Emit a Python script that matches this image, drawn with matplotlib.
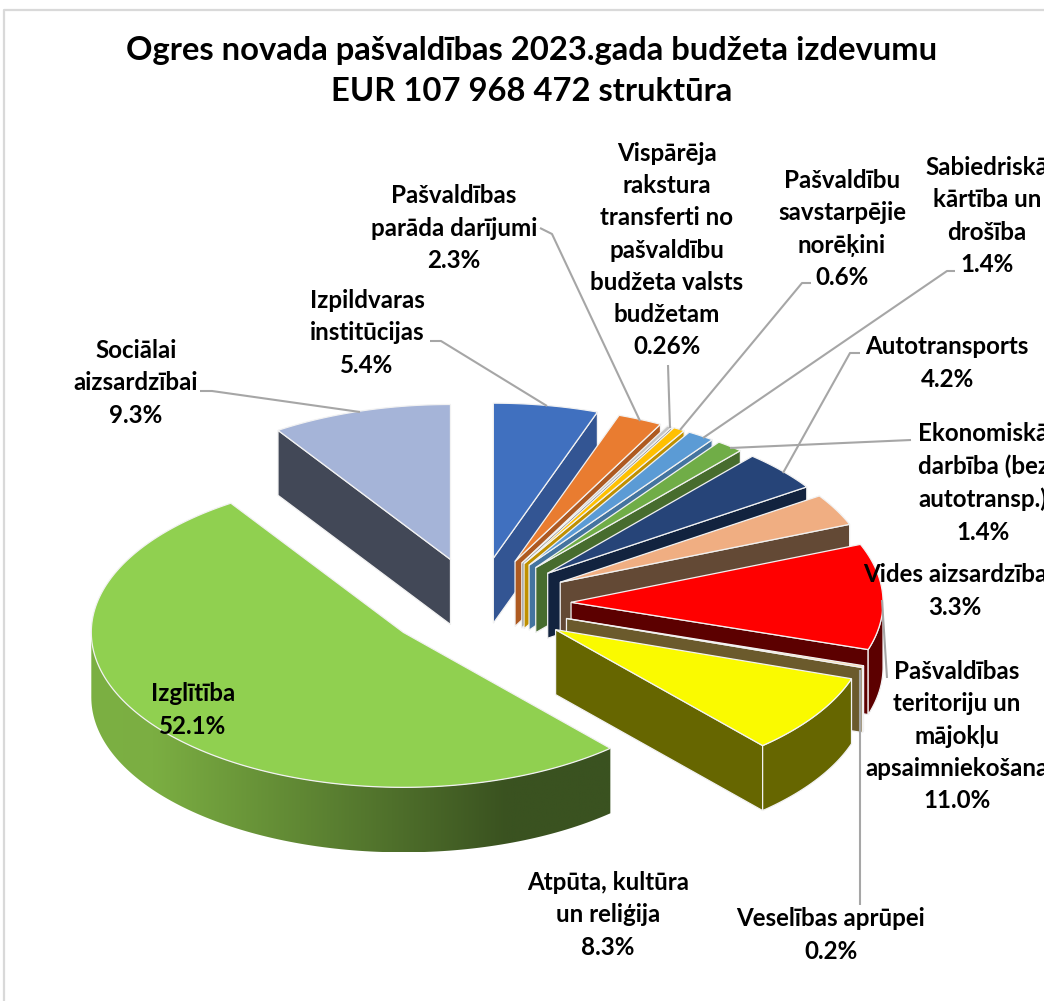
import numpy as np
import matplotlib
matplotlib.use("Agg")
import matplotlib.pyplot as plt
from matplotlib.patches import Polygon
from matplotlib.colors import LinearSegmentedColormap

plt.rcParams['font.family'] = ['Lato', 'DejaVu Sans']

# data, clockwise from 12 o'clock
labels = ["Izpildvaras\ninstitūcijas", "Pašvaldības\nparāda darījumi",
          "Vispārēja\nrakstura\ntransferti no\npašvaldību\nbudžeta valsts\nbudžetam",
          "Pašvaldību\nsavstarpējie\nnorēķini", "Sabiedriskā\nkārtība un\ndrošība",
          "Ekonomiskā\ndarbība (bez\nautotransp.)", "Autotransports", "Vides aizsardzība",
          "Pašvaldības\nteritoriju un\nmājokļu\napsaimniekošana", "Veselības aprūpei",
          "Atpūta, kultūra\nun reliģija", "Izglītība", "Sociālai\naizsardzībai"]
values = [5.4, 2.3, 0.26, 0.6, 1.4, 1.4, 4.2, 3.3, 11.0, 0.2, 8.3, 52.1, 9.3]
value_text = ["5.4%", "2.3%", "0.26%", "0.6%", "1.4%", "1.4%", "4.2%", "3.3%", "11.0%", "0.2%", "8.3%", "52.1%", "9.3%"]

top_colors = ["#4070BF", "#E97C30", "#C4C4C4", "#FFC000", "#5B9BD5", "#70AD47", "#264478",
              "#F0AE82", "#FF0000", "#FFD9A0", "#FAFA00", "#90D050", "#A5B4D8"]
side_colors = ["#335593", "#AE5A21", "#7C7C7C", "#BF9000", "#44749F", "#476C2E", "#12233F",
               "#634935", "#5C0000", "#6B5A2C", "#666600", "#7CB042", "#424857"]

# label block centres in pixels
label_x = [367, 454, 667, 842, 987, 983, 947, 955, 957, 831, 608, 193, 136]
label_y = [333, 228, 250, 229, 216, 483, 363, 591, 736, 935, 915, 710, 383]

# leader lines
leaders = [[(430, 341), (441, 341), (547, 406)],
           [(540, 228), (552, 234), (640, 421)],
           [(668, 365), (670, 428)],
           [(811, 283), (802, 283), (680, 430)],
           [(955, 271), (947, 271), (703, 438)],
           [(860, 353), (850, 353), (783, 473)],
           [(911, 440), (730, 448)],
           [(887, 678), (882, 600)],
           [(860, 670), (860, 905)],
           [(200, 391), (212, 391), (360, 412)]]

# pie geometry
cx, cy = 477.5, 604
rx, ry = 312, 155
explode = 0.3
depth = 65

fig = plt.figure(figsize=(10.44, 10.01), dpi=100)
ax = fig.add_axes([0, 0, 1, 1])


def pt(x0, y0, deg):
    a = np.radians(deg)
    return np.column_stack([x0 + rx * np.sin(a), y0 - ry * np.cos(a)])


def drop(points):
    return points + np.array([0, depth])


ends = np.cumsum(values) / np.sum(values) * 360
starts = np.concatenate([[0], ends[:-1]])

# sociali is the back left slice, draw it first
order = [12] + list(range(12))
for i in order:
    a0, a1 = starts[i], ends[i]
    mid = (a0 + a1) / 2
    ax0 = cx + explode * rx * np.sin(np.radians(mid))
    ay0 = cy - explode * ry * np.cos(np.radians(mid))
    apex = np.array([[ax0, ay0]])
    zo = 2 + order.index(i)

    # radial faces
    if a1 < 180:
        p = np.vstack([apex, pt(ax0, ay0, [a1])])
        ax.add_patch(Polygon(np.vstack([p, drop(p)[::-1]]), fc=side_colors[i], ec="#F2F2F2", lw=0.9, zorder=zo))
    if a0 > 180:
        p = np.vstack([apex, pt(ax0, ay0, [a0])])
        ax.add_patch(Polygon(np.vstack([p, drop(p)[::-1]]), fc=side_colors[i], ec="#F2F2F2", lw=0.9, zorder=zo))

    # outer wall
    w0, w1 = max(a0, 90), min(a1, 270)
    if w1 > w0:
        arc = pt(ax0, ay0, np.linspace(w0, w1, 120))
        outline = np.vstack([arc, drop(arc)[::-1]])
        wall = Polygon(outline, fc=side_colors[i], ec="#F2F2F2", lw=0.9, zorder=zo)
        ax.add_patch(wall)
        if i == 11:
            # Izglitiba wall has a left to right shading
            wall.set_facecolor("none")
            wall.set_edgecolor("none")
            cmap = LinearSegmentedColormap.from_list("wall", [(0, "#7CB042"), (0.12, "#7BAE42"), (0.8, "#3A5220"), (1, "#3A5220")])
            im = ax.imshow(np.linspace(0, 1, 256)[None, :], cmap=cmap, aspect="auto", zorder=zo,
                           extent=[outline[:, 0].min(), outline[:, 0].max(), outline[:, 1].max(), outline[:, 1].min()])
            im.set_clip_path(wall)

    # top face
    arc = pt(ax0, ay0, np.linspace(a0, a1, 240))
    ax.add_patch(Polygon(np.vstack([apex, arc]), fc=top_colors[i], ec="#F2F2F2", lw=0.9, zorder=zo + 0.5))

# leader lines
for line in leaders:
    xs, ys = zip(*line)
    ax.plot(xs, ys, color="#A6A6A6", lw=1.5, zorder=30, solid_capstyle="butt")

# labels
for name, val, x, y in zip(labels, value_text, label_x, label_y):
    ax.text(x, y, name + "\n" + val, ha="center", va="center", fontsize=17.4, fontweight="bold",
            color="black", linespacing=1.49, zorder=40)

ax.text(532, 71, "Ogres novada pašvaldības 2023.gada budžeta izdevumu\nEUR 107 968 472 struktūra",
        ha="center", va="center", fontsize=23.6, fontweight="bold", color="black", linespacing=1.52, zorder=40)

# chart frame, runs off the right and bottom of the crop
ax.plot([4, 4, 1044], [1001, 10, 10], color="#D9D9D9", lw=1.6, zorder=1)

ax.set_xlim(0, 1044)
ax.set_ylim(1001, 0)
ax.axis("off")
fig.savefig("out.png", dpi=100, facecolor="white")
